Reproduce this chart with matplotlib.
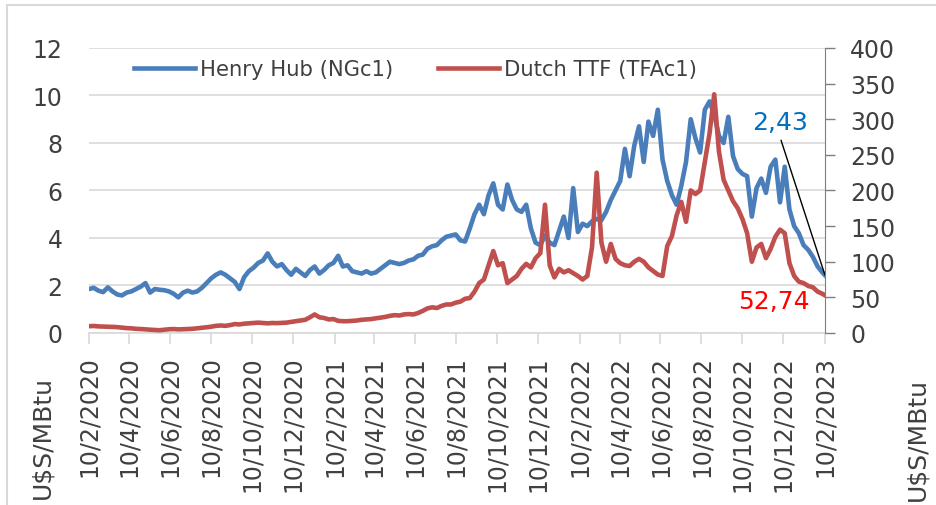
import matplotlib
matplotlib.use("Agg")
import matplotlib.pyplot as plt
from matplotlib.patches import Rectangle
import pandas as pd

# --- Data: weekly readings (Mondays) + last print on 10/2/2023 ---
hh_2020 = [1.85, 1.90, 1.78, 1.72, 1.92, 1.75, 1.62, 1.58, 1.70, 1.75,
           1.85, 1.95, 2.10, 1.70, 1.85, 1.82, 1.80, 1.75, 1.65, 1.50,
           1.70, 1.78, 1.70, 1.75, 1.90, 2.10, 2.30, 2.45, 2.55, 2.45,
           2.30, 2.15, 1.85, 2.35, 2.60, 2.75, 2.95, 3.05, 3.35, 3.00,
           2.80, 2.90, 2.65, 2.45, 2.70, 2.55, 2.40]
hh_2021 = [2.65, 2.80, 2.50, 2.65, 2.85, 2.95, 3.25, 2.80, 2.85, 2.60,
           2.55, 2.50, 2.60, 2.50, 2.55, 2.70, 2.85, 3.00, 2.95, 2.90,
           2.95, 3.05, 3.10, 3.25, 3.30, 3.55, 3.65, 3.70, 3.90, 4.05,
           4.10, 4.15, 3.90, 3.85, 4.40, 5.00, 5.40, 5.00, 5.80, 6.30,
           5.40, 5.20, 6.25, 5.60, 5.20, 5.10, 5.40, 4.40, 3.80, 3.70,
           4.10, 3.80]
hh_2022 = [3.70, 4.30, 4.90, 4.00, 6.10, 4.25, 4.60, 4.50, 4.70, 4.80,
           4.75, 5.10, 5.60, 6.00, 6.40, 7.75, 6.60, 7.90, 8.70, 7.20,
           8.90, 8.30, 9.40, 7.30, 6.40, 5.80, 5.40, 6.20, 7.20, 9.00,
           8.20, 7.60, 9.40, 9.75, 9.20, 8.30, 8.00, 9.10, 7.45, 6.90,
           6.70, 6.60, 4.90, 6.10, 6.50, 5.90, 7.00, 7.30, 5.50, 7.00,
           5.20, 4.50]
hh_2023 = [4.20, 3.70, 3.50, 3.20, 2.80, 2.55, 2.43]

ttf_2020 = [9.5, 9.8, 9.2, 9.0, 8.8, 8.5, 8.2, 7.5, 6.8, 6.5,
            5.8, 5.5, 5.0, 4.6, 4.2, 3.8, 4.5, 5.2, 5.5, 5.0,
            5.2, 5.5, 5.8, 6.5, 7.2, 8.0, 8.8, 10.0, 10.5, 10.0,
            11.0, 12.5, 12.0, 13.0, 13.5, 14.0, 14.5, 14.0, 13.5, 14.0,
            13.8, 14.2, 14.5, 15.5, 16.5, 17.5, 18.5]
ttf_2021 = [22.0, 26.0, 22.0, 21.0, 19.0, 19.5, 17.0, 16.5, 16.5, 17.0,
            17.5, 18.5, 19.0, 19.5, 20.5, 21.5, 22.5, 24.0, 25.0, 24.5,
            26.0, 26.5, 26.0, 28.0, 31.0, 34.5, 36.0, 35.0, 38.0, 40.0,
            40.0, 42.5, 44.0, 48.0, 49.0, 58.0, 70.0, 75.0, 95.0, 115.0,
            95.0, 98.0, 70.0, 75.0, 80.0, 90.0, 97.0, 92.0, 105.0, 112.0,
            180.0, 95.0]
ttf_2022 = [78, 90, 85, 88, 84, 80, 75, 80, 120, 225,
            127, 100, 125, 104, 98, 95, 94, 100, 104, 100,
            92, 87, 82, 80, 122, 136, 165, 184, 156, 200,
            195, 200, 240, 280, 335, 255, 215, 200, 185, 175,
            160, 140, 100, 120, 125, 105, 118, 135, 145, 140,
            98, 80]
ttf_2023 = [72, 70, 66, 64, 58, 55, 52.74]

henry_hub = hh_2020 + hh_2021 + hh_2022 + hh_2023
dutch_ttf = ttf_2020 + ttf_2021 + ttf_2022 + ttf_2023
dates = pd.date_range("2020-02-10", "2023-02-06", freq="7D").append(
    pd.DatetimeIndex(["2023-02-10"]))
assert len(dates) == len(henry_hub) == len(dutch_ttf)

tick_dates = pd.date_range("2020-02-10", "2023-02-10", freq=pd.DateOffset(months=2))
tick_labels = [f"{d.day}/{d.month}/{d.year}" for d in tick_dates]

BLUE = "#4a7ebb"
RED = "#c0504d"
TXT = "#404040"
GRID = "#d9d9d9"

# --- Figure ---
fig = plt.figure(figsize=(9.37, 5.06), dpi=100)
ax = fig.add_axes([0.095, 0.34, 0.7855, 0.5632])
ax2 = ax.twinx()

l1, = ax.plot(dates, henry_hub, color=BLUE, lw=3.3, label="Henry Hub (NGc1)")
l2, = ax2.plot(dates, dutch_ttf, color=RED, lw=3.3, label="Dutch TTF (TFAc1)")

ax.set_xlim(dates[0], dates[-1])
ax.set_ylim(0, 12)
ax.set_yticks(range(0, 13, 2))
ax2.set_ylim(0, 400)
ax2.set_yticks(range(0, 401, 50))

ax.grid(axis="y", color=GRID, lw=1.2)
ax.set_axisbelow(True)
for s in ["top", "left", "right"]:
    ax.spines[s].set_visible(False)
ax.spines["bottom"].set_color(GRID)
ax.spines["bottom"].set_linewidth(1.2)
for s in ["top", "left", "bottom"]:
    ax2.spines[s].set_visible(False)
ax2.spines["right"].set_color("#7f7f7f")

ax.set_xticks(tick_dates)
ax.set_xticklabels(tick_labels, rotation=90)
ax.tick_params(axis="x", length=8, width=1.2, color=GRID, pad=8,
               labelsize=17, labelcolor=TXT)
ax.tick_params(axis="y", length=0, pad=19, labelsize=17, labelcolor=TXT)
ax2.tick_params(axis="y", length=7, width=1, color="#7f7f7f", pad=11,
                labelsize=17, labelcolor=TXT)

ax2.legend([l1, l2], [l1.get_label(), l2.get_label()], loc="center",
           bbox_to_anchor=(0.4436, 0.926), ncol=2, frameon=False,
           fontsize=15.2, handlelength=2.9, handletextpad=0.25,
           columnspacing=2.1, labelcolor=TXT)

# last-value callouts
ax.annotate("2,43", xy=(dates[-1], henry_hub[-1]), xytext=(-45, 153),
            textcoords="offset pixels", ha="center", va="center",
            color="#0070c0", fontsize=18)
ax.annotate("", xy=(dates[-1], henry_hub[-1]), xytext=(-44, 135),
            textcoords="offset pixels",
            arrowprops=dict(arrowstyle="-", color="black", lw=1,
                            shrinkA=0, shrinkB=0))
ax2.annotate("52,74", xy=(dates[-1], dutch_ttf[-1]), xytext=(-51, -6),
             textcoords="offset pixels", ha="center", va="center",
             color="#ff0000", fontsize=18)

# unit labels
fig.text(42 / 937, 1 - 499 / 506, "U$S/MBtu", rotation=90, ha="center",
         va="bottom", fontsize=18, color=TXT)
fig.text(917 / 937, 1 - 501 / 506, "U$S/MBtu", rotation=90, ha="center",
         va="bottom", fontsize=18, color=TXT)

# outer frame
fig.add_artist(Rectangle((7 / 937, -0.05), 1.0, 1.05 - 6 / 506,
                         transform=fig.transFigure, fill=False,
                         edgecolor=GRID, lw=1.5))

fig.savefig("out.png", dpi=100)
